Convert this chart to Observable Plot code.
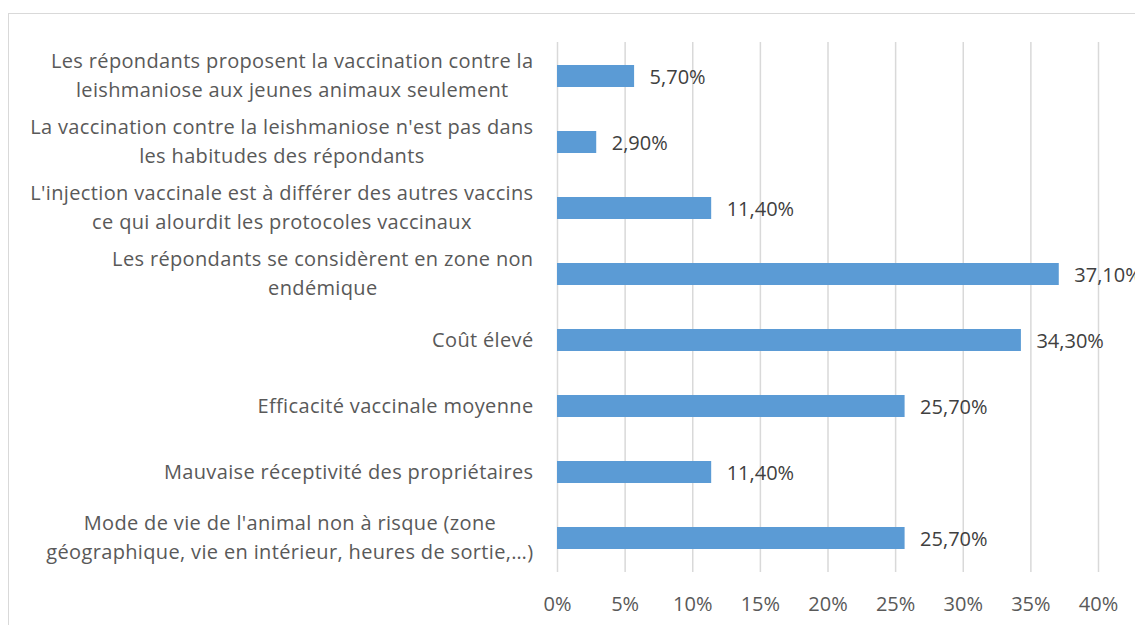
<!DOCTYPE html>
<html>
<head>
<meta charset="utf-8">
<script src="https://cdn.jsdelivr.net/npm/d3@7"></script>
<script src="https://cdn.jsdelivr.net/npm/@observablehq/plot@0.6"></script>
<style>
  html, body { margin: 0; padding: 0; background: #fff; overflow: hidden; }
  #frame { position: absolute; left: 8px; top: 13px; width: 1200px; height: 700px; border: 1.5px solid #d9d9d9; }
  #chart { position: absolute; left: 0; top: 0; }
  g[aria-label='y-axis tick label'] text { letter-spacing: 0.35px; }
</style>
</head>
<body>
<div id="frame"></div>
<div id="chart"></div>
<script>
const categories = [
  "Les répondants proposent la vaccination contre la\nleishmaniose aux jeunes animaux seulement",
  "La vaccination contre la leishmaniose n'est pas dans\nles habitudes des répondants",
  "L'injection vaccinale est à différer des autres vaccins\nce qui alourdit les protocoles vaccinaux",
  "Les répondants se considèrent en zone non\nendémique",
  "Coût élevé",
  "Efficacité vaccinale moyenne",
  "Mauvaise réceptivité des propriétaires",
  "Mode de vie de l'animal non à risque (zone\ngéographique, vie en intérieur, heures de sortie,…)"
];
const values = [5.7, 2.9, 11.4, 37.1, 34.3, 25.7, 11.4, 25.7];
const xTicks = [0, 5, 10, 15, 20, 25, 30, 35, 40];

const data = categories.map((c, i) => ({category: c, value: values[i]}));
const fmt = v => v.toFixed(2).replace(".", ",") + "%";
const font = "'Open Sans', sans-serif";
const fs = 20;

const plot = Plot.plot({
  width: 1135,
  height: 625,
  marginLeft: 557,
  marginRight: 37,
  marginTop: 42,
  marginBottom: 53,
  style: {fontFamily: font, fontSize: fs + "px", color: "#595959", background: "transparent", overflow: "visible"},
  x: {domain: [0, 40], ticks: xTicks, label: null},
  y: {domain: categories, paddingInner: 0.67, paddingOuter: 0.335, label: null},
  marks: [
    Plot.gridX(xTicks, {stroke: "#d9d9d9", strokeOpacity: 1, strokeWidth: 1.5}),
    Plot.barX(data, {x: "value", y: "category", fill: "#5b9bd5"}),
    Plot.text(data, {x: "value", y: "category", text: d => fmt(d.value), textAnchor: "start", dx: 15, dy: 1, fill: "#404040", fontSize: fs}),
    Plot.axisX({ticks: xTicks, tickFormat: d => d + "%", tickSize: 0, tickPadding: 24, fontSize: fs, fill: "#595959", label: null}),
    Plot.axisY({tickSize: 0, tickPadding: 24, dy: -3, fontSize: fs, lineHeight: 1.45, fill: "#595959", label: null})
  ]
});
document.getElementById("chart").appendChild(plot);

// Center lines of multi-line category labels within their right-aligned block
plot.querySelectorAll("g[aria-label='y-axis tick label'] text").forEach(t => {
  const spans = t.querySelectorAll("tspan");
  if (spans.length < 2) return;
  let W = 0;
  spans.forEach(s => { W = Math.max(W, s.getComputedTextLength()); });
  t.setAttribute("text-anchor", "middle");
  spans.forEach(s => { s.setAttribute("x", (parseFloat(s.getAttribute("x")) || 0) - W / 2); });
});
</script>
</body>
</html>
